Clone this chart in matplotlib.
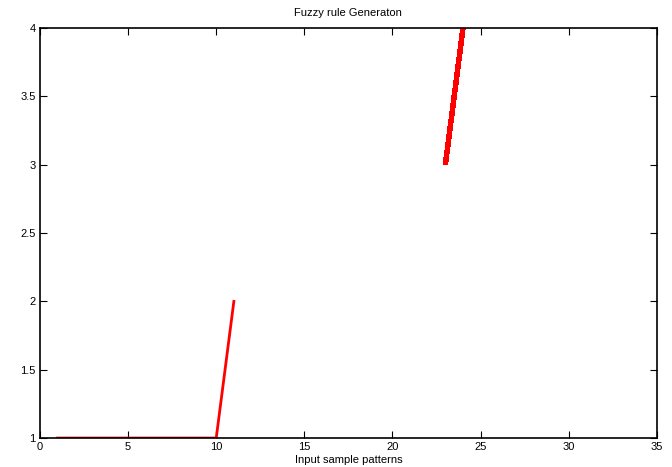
import matplotlib
matplotlib.use('Agg')
from matplotlib import pyplot as plt

# rule outputs
pattern_a = [1, 10, 11]
rule_a = [1, 1, 2]
pattern_b = [23, 24]
rule_b = [3, 4]

xticks = [0, 5, 10, 15, 20, 25, 30, 35]
yticks = [1, 1.5, 2, 2.5, 3, 3.5, 4]

plt.rcParams['font.family'] = ['Liberation Sans', 'DejaVu Sans']
fig = plt.figure(figsize=(6.72, 4.67), dpi=100)
ax = fig.add_axes([0.0595, 0.062, 0.918, 0.878])

ax.plot(pattern_a, rule_a, color='red', lw=2)
ax.plot(pattern_b, rule_b, color='red', lw=3.2, antialiased=False, solid_capstyle='butt')

ax.set_xlim(0, 35)
ax.set_ylim(1, 4)
ax.set_xticks(xticks)
ax.set_yticks(yticks)
ax.set_yticklabels(['1', '1.5', '2', '2.5', '3', '3.5', '4'])
ax.tick_params(direction='in', top=True, right=True, labelsize=8, length=5, width=0.8, pad=3)
for s in ax.spines.values():
    s.set_linewidth(1.2)

ax.set_title('Fuzzy rule Generaton', fontsize=8, pad=9)
ax.set_xlabel('Input sample patterns', fontsize=8, labelpad=2)

fig.savefig('out.png', dpi=100)
